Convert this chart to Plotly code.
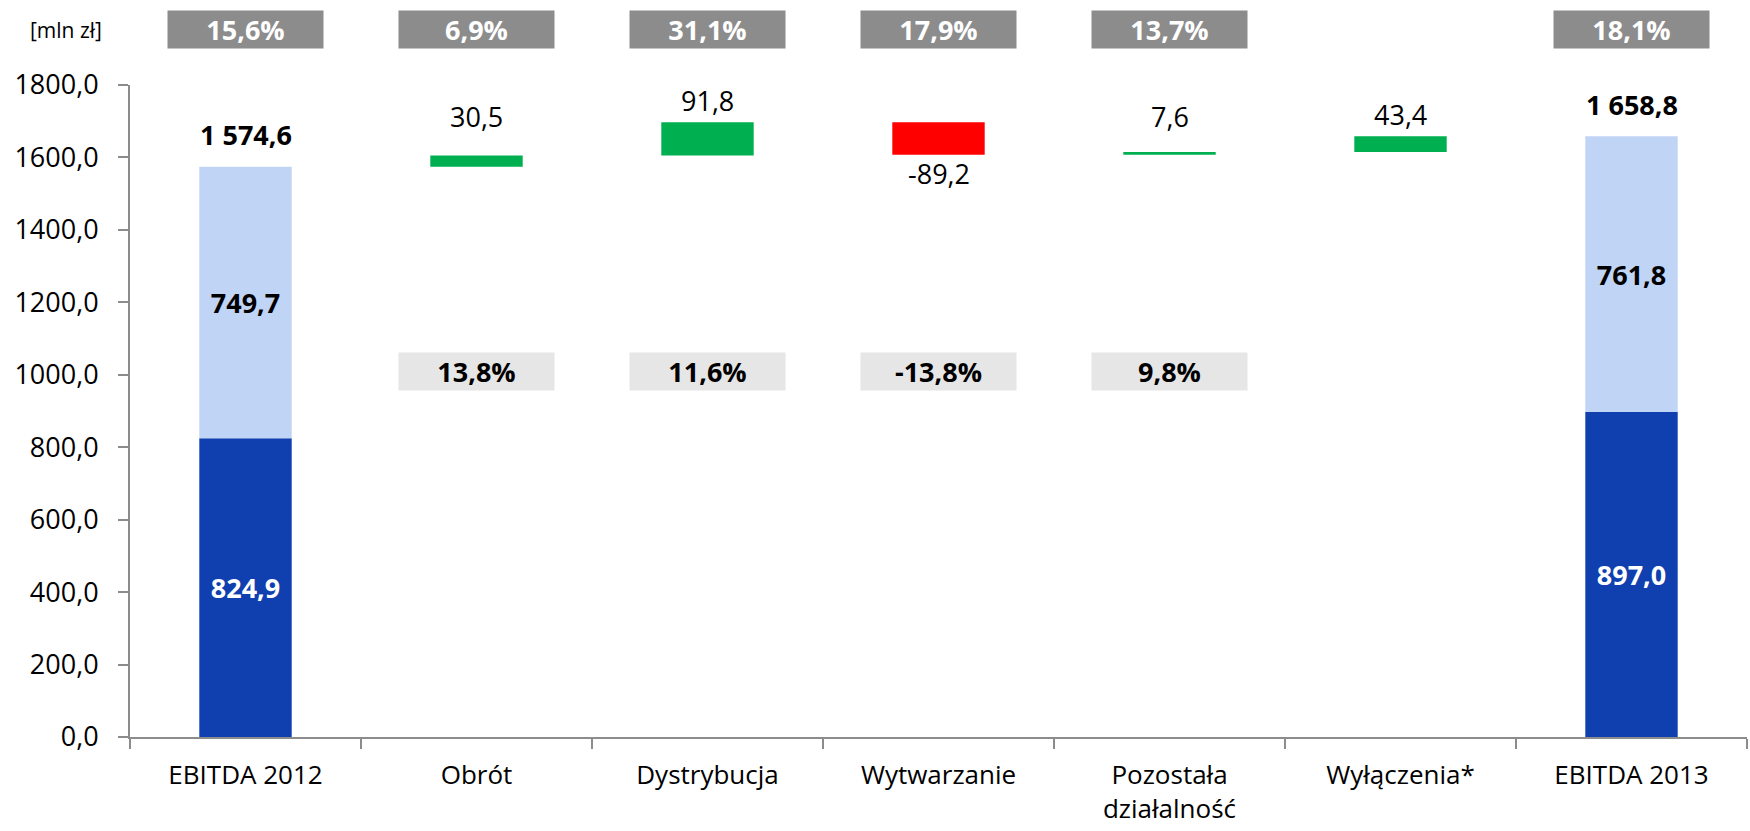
import plotly.graph_objects as go
import numpy as np

# ---------------- data ----------------
categories = ["EBITDA 2012", "Obrót", "Dystrybucja", "Wytwarzanie",
              "Pozostała<br>działalność", "Wyłączenia*", "EBITDA 2013"]
start_parts = [824.9, 749.7]      # EBITDA 2012: dark part, light part
end_parts = [897.0, 761.8]        # EBITDA 2013: dark part, light part
delta_cats = ["Obrót", "Dystrybucja", "Wytwarzanie",
              "Pozostała<br>działalność", "Wyłączenia*"]
deltas = [30.5, 91.8, -89.2, 7.6, 43.4]
top_pct = [15.6, 6.9, 31.1, 17.9, 13.7, None, 18.1]
mid_pct = [None, 13.8, 11.6, -13.8, 9.8, None, None]
y_ticks = [0, 200, 400, 600, 800, 1000, 1200, 1400, 1600, 1800]

# ---------------- styles ----------------
FONT = "Open Sans"
DARK = "#103FAF"
LIGHT = "#C0D5F5"
GREEN = "#00B050"
RED = "#FF0000"
AXIS = "#8C8C8C"
LABEL_ROW = 1713      # default level of the change labels (axis units)
LABEL_GAP = 61        # minimal distance of a change label above its bar (axis units)


def fmt(v, dec=1):
    s = f"{v:,.{dec}f}"
    return s.replace(",", " ").replace(".", ",")


start_total = sum(start_parts)
end_total = sum(end_parts)
cum = start_total + np.cumsum(deltas)
bases = np.concatenate([[start_total], cum[:-1]])

end_cats = [categories[0], categories[-1]]
dark_vals = [start_parts[0], end_parts[0]]
light_vals = [start_parts[1], end_parts[1]]

fig = go.Figure()
BW = 0.4
fig.add_trace(go.Bar(
    x=end_cats, y=dark_vals, base=[0, 0], width=BW,
    marker=dict(color=DARK, line=dict(width=0)),
    text=[fmt(v) for v in dark_vals], textposition="inside",
    insidetextanchor="middle", textangle=0, constraintext="none",
    insidetextfont=dict(family=FONT, size=27, color="white", weight="bold"),
    hoverinfo="skip", showlegend=False))
fig.add_trace(go.Bar(
    x=end_cats, y=light_vals, base=dark_vals, width=BW,
    marker=dict(color=LIGHT, line=dict(width=0)),
    text=[fmt(v) for v in light_vals], textposition="inside",
    insidetextanchor="middle", textangle=0, constraintext="none",
    insidetextfont=dict(family=FONT, size=27, color="black", weight="bold"),
    hoverinfo="skip", showlegend=False))
fig.add_trace(go.Bar(
    x=delta_cats, y=deltas, base=bases, width=BW,
    marker=dict(color=[GREEN if d >= 0 else RED for d in deltas],
                line=dict(width=0)),
    hoverinfo="skip", showlegend=False))

annotations = []
# totals above start/end bars
for c, tot in zip(end_cats, [start_total, end_total]):
    annotations.append(dict(x=c, y=tot, xref="x", yref="y", text=f"<b>{fmt(tot)}</b>",
                            showarrow=False, yanchor="middle", yshift=32,
                            font=dict(family=FONT, size=27, color="black")))
# change labels
for c, b, d in zip(delta_cats, bases, deltas):
    if d >= 0:
        annotations.append(dict(x=c, y=max(LABEL_ROW, b + d + LABEL_GAP), xref="x",
                                yref="y", text=fmt(d),
                                showarrow=False, yanchor="middle",
                                font=dict(family=FONT, size=27, color="black")))
    else:
        annotations.append(dict(x=c, y=b + d, xref="x", yref="y", text=fmt(d),
                                showarrow=False, yanchor="middle", yshift=-19,
                                font=dict(family=FONT, size=27, color="black")))
# top dark grey boxes
for c, p in zip(categories, top_pct):
    if p is None:
        continue
    annotations.append(dict(x=c, y=1.0845, xref="x", yref="paper",
                            text=f"<b>{fmt(p)}%</b>", showarrow=False,
                            xanchor="center", yanchor="middle",
                            width=155, height=37, bgcolor="#8C8C8C", borderpad=0,
                            font=dict(family=FONT, size=27, color="white")))
# middle light grey boxes
for c, p in zip(categories, mid_pct):
    if p is None:
        continue
    annotations.append(dict(x=c, y=1010, xref="x", yref="y",
                            text=f"<b>{fmt(p)}%</b>", showarrow=False,
                            xanchor="center", yanchor="middle",
                            width=155, height=37, bgcolor="#E7E6E6", borderpad=0,
                            font=dict(family=FONT, size=27, color="black")))
# unit label
annotations.append(dict(x=-0.0396, y=1.0845, xref="paper", yref="paper",
                        text="[mln zł]", showarrow=False, xanchor="center",
                        yanchor="middle",
                        font=dict(family=FONT, size=21, color="black")))

fig.update_layout(
    width=1750, height=831,
    margin=dict(l=130, r=3, t=85, b=94),
    barmode="overlay",
    plot_bgcolor="white", paper_bgcolor="white",
    separators=", ",
    font=dict(family=FONT, size=26, color="black"),
    annotations=annotations,
    xaxis=dict(type="category", categoryorder="array", categoryarray=categories,
               tickson="boundaries", ticks="outside", ticklen=10, tickwidth=2,
               tickcolor=AXIS, showline=True, linecolor=AXIS, linewidth=2,
               showgrid=False, zeroline=False, ticklabelstandoff=14,
               tickfont=dict(family=FONT, size=26, color="black")),
    yaxis=dict(range=[0, 1800], tickvals=y_ticks, tickformat=".1f",
               ticks="outside", ticklen=10, tickwidth=2, tickcolor=AXIS,
               showline=True, linecolor=AXIS, linewidth=2, showgrid=False,
               zeroline=False, ticklabelstandoff=14,
               tickfont=dict(family=FONT, size=27, color="black")),
)

fig.write_html("out.html",
               config={"displayModeBar": False},
               post_script="document.body.style.margin='0';document.body.style.overflow='hidden';")
